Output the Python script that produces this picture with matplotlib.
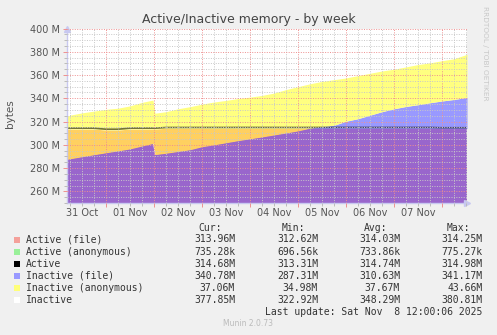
import matplotlib
matplotlib.use('Agg')
import matplotlib.dates as mdates
import matplotlib.pyplot as plt
import numpy as np
import pandas as pd
from matplotlib.patches import Rectangle
from matplotlib.ticker import FuncFormatter, MultipleLocator

# 数据（单位：M），按采样时间点读取
times = [
    "2025-10-31 04:30", "2025-10-31 06:00", "2025-10-31 12:00", "2025-10-31 18:00",
    "2025-11-01 00:00", "2025-11-01 06:00", "2025-11-01 12:00", "2025-11-01 18:00", "2025-11-01 23:30",
    "2025-11-02 00:30", "2025-11-02 06:00", "2025-11-02 12:00", "2025-11-02 18:00",
    "2025-11-03 00:00", "2025-11-03 06:00", "2025-11-03 12:00", "2025-11-03 18:00",
    "2025-11-04 00:00", "2025-11-04 06:00", "2025-11-04 12:00", "2025-11-04 18:00",
    "2025-11-05 00:00", "2025-11-05 06:00", "2025-11-05 12:00", "2025-11-05 18:00",
    "2025-11-06 00:00", "2025-11-06 06:00", "2025-11-06 12:00", "2025-11-06 18:00",
    "2025-11-07 00:00", "2025-11-07 06:00", "2025-11-07 12:00", "2025-11-07 18:00",
    "2025-11-08 00:00", "2025-11-08 06:00", "2025-11-08 12:30",
]
active_file = [313.6, 313.6, 313.6, 313.6, 312.7, 312.7, 313.6, 313.6, 313.6,
               313.6, 314.2, 314.2, 314.2, 314.2, 314.2, 314.2, 314.2,
               314.2, 314.2, 314.2, 314.2, 314.2, 314.2, 314.2, 314.2,
               314.2, 314.2, 314.2, 314.2, 314.2, 314.2, 314.2, 314.2,
               313.96, 313.96, 313.96]
active_anon = [0.74, 0.74, 0.73, 0.73, 0.72, 0.72, 0.73, 0.74, 0.74,
               0.70, 0.71, 0.72, 0.73, 0.73, 0.74, 0.74, 0.75,
               0.75, 0.74, 0.74, 0.73, 0.73, 0.74, 0.75, 0.76,
               0.76, 0.75, 0.74, 0.74, 0.73, 0.73, 0.74, 0.74,
               0.74, 0.74, 0.735]
inactive_file = [287.5, 288.0, 289.8, 291.5, 293.2, 294.8, 296.5, 299.0, 301.2,
                 291.6, 292.8, 294.3, 295.8, 298.4, 300.0, 301.8, 303.6,
                 305.2, 306.8, 308.5, 310.2, 312.0, 314.3, 315.8, 316.8,
                 320.3, 322.5, 325.5, 328.5, 331.0, 333.0, 334.5, 336.2,
                 337.7, 339.0, 340.8]
inactive_anon = [37.0, 37.5, 37.7, 37.5, 37.3, 36.7, 37.0, 37.5, 37.3,
                 35.6, 35.7, 36.7, 37.0, 36.6, 36.8, 36.4, 36.2,
                 35.8, 35.7, 36.0, 37.3, 38.0, 38.2, 38.7, 39.2,
                 37.2, 37.0, 36.0, 35.0, 34.0, 34.0, 34.5, 34.3,
                 34.6, 35.0, 37.0]

legend_names = ["Active (file)", "Active (anonymous)", "Active",
                "Inactive (file)", "Inactive (anonymous)", "Inactive"]
legend_colors = ["#F4A09A", "#99F099", "#000000", "#9999FF", "#FFFF7A", "#FFFFFF"]
stat_cur = ["313.96M", "735.28k", "314.68M", "340.78M", "37.06M", "377.85M"]
stat_min = ["312.62M", "696.56k", "313.31M", "287.31M", "34.98M", "322.92M"]
stat_avg = ["314.03M", "733.86k", "314.74M", "310.63M", "37.67M", "348.29M"]
stat_max = ["314.25M", "775.27k", "314.98M", "341.17M", "43.66M", "380.81M"]

W, H = 497, 335
BG = '#F0F0F0'


def fx(x):
    return x / W


def fy(y):
    return 1 - y / H


t = pd.to_datetime(times)
af = np.array(active_file)
at = af + np.array(active_anon)
inf = np.array(inactive_file)
it = inf + np.array(inactive_anon)

fig = plt.figure(figsize=(W / 100, H / 100), dpi=100, facecolor=BG)
ax = fig.add_axes([fx(67), fy(203), 400 / W, 174.5 / H])
ax.set_facecolor('white')

# 叠加区域
low = np.minimum(af, inf)
ax.fill_between(t, 0, low, color='#9966CC', lw=0)
ax.fill_between(t, inf, af, where=af > inf, interpolate=True, color='#FFD060', lw=0)
ax.fill_between(t, af, inf, where=inf > af, interpolate=True, color='#9999FF', lw=0)
ax.fill_between(t, np.maximum(af, inf), it, color='#FFFF80', lw=0)
ax.plot(t, at, color='black', alpha=0.55, lw=1.2)

ax.set_ylim(250, 400)
ax.set_xlim(pd.Timestamp("2025-10-31 04:30"), pd.Timestamp("2025-11-08 12:30"))

ax.yaxis.set_major_locator(MultipleLocator(20))
ax.yaxis.set_minor_locator(MultipleLocator(5))
ax.yaxis.set_major_formatter(FuncFormatter(lambda v, p: f"{v:.0f} M"))
ax.xaxis.set_major_locator(mdates.DayLocator())
ax.xaxis.set_minor_locator(mdates.HourLocator(byhour=[6, 12, 18]))
ax.xaxis.set_major_formatter(FuncFormatter(lambda v, p: ""))

ax.set_axisbelow(False)
ax.grid(which='minor', color='#C8C8C8', lw=0.7, ls=(0, (1, 1.5)))
ax.grid(which='major', color='#EE9090', lw=0.7, ls=(0, (1, 1.5)))

for s in ['top', 'right']:
    ax.spines[s].set_visible(False)
for s in ['left', 'bottom']:
    ax.spines[s].set_color('#C8C8F0')
    ax.spines[s].set_linewidth(1.0)

ax.tick_params(which='major', direction='out', length=3, color='#EE9090', width=0.7,
               labelsize=7, labelcolor='#555555', pad=2)
ax.tick_params(which='minor', direction='out', length=2, color='#BBBBBB', width=0.7)

# 坐标轴箭头
ax.plot(0, 1.0, marker='^', ms=5, color='#C8C8F0', transform=ax.transAxes, clip_on=False)
ax.plot(1.0, 0, marker='>', ms=5, color='#C8C8F0', transform=ax.transAxes, clip_on=False)

# 日期标签放在每天正午
for d in pd.date_range("2025-10-31 12:00", periods=8, freq="D"):
    ax.text(mdates.date2num(d), -10 / 174.5, d.strftime("%d %b"), transform=ax.get_xaxis_transform(),
            ha='center', va='center', fontsize=7, color='#555555')

fig.text(fx(249), fy(19), "Active/Inactive memory - by week", ha='center', va='center',
         fontsize=9, color='#444444')
fig.text(fx(10), fy(114), "bytes", rotation=90, ha='center', va='center', fontsize=7.5, color='#555555')
fig.text(fx(485.5), fy(53), "RRDTOOL / TOBI OETIKER", rotation=270, ha='center', va='center',
         fontsize=5.3, color='#C8C8C8')

# 图例与统计
mono = dict(family='DejaVu Sans Mono', fontsize=7, color='#333333', va='center')
fig.text(fx(222), fy(228), "Cur:", ha='right', **mono)
fig.text(fx(305), fy(228), "Min:", ha='right', **mono)
fig.text(fx(387), fy(228), "Avg:", ha='right', **mono)
fig.text(fx(470), fy(228), "Max:", ha='right', **mono)

for i, name in enumerate(legend_names):
    yc = 239.5 + 12.05 * i
    fig.patches.append(Rectangle((fx(14), fy(yc + 3)), 6 / W, 6 / H, transform=fig.transFigure,
                                 facecolor=legend_colors[i], edgecolor='none'))
    fig.text(fx(26), fy(yc), name, ha='left', **mono)
    fig.text(fx(235), fy(yc), stat_cur[i], ha='right', **mono)
    fig.text(fx(318), fy(yc), stat_min[i], ha='right', **mono)
    fig.text(fx(400), fy(yc), stat_avg[i], ha='right', **mono)
    fig.text(fx(482.7), fy(yc), stat_max[i], ha='right', **mono)

fig.text(fx(482.7), fy(311.7), "Last update: Sat Nov  8 12:00:06 2025", ha='right', **mono)
fig.text(fx(248), fy(324), "Munin 2.0.73", ha='center', va='center', fontsize=5.5, color='#BBBBBB')

fig.savefig('out.png', dpi=100, facecolor=BG)
